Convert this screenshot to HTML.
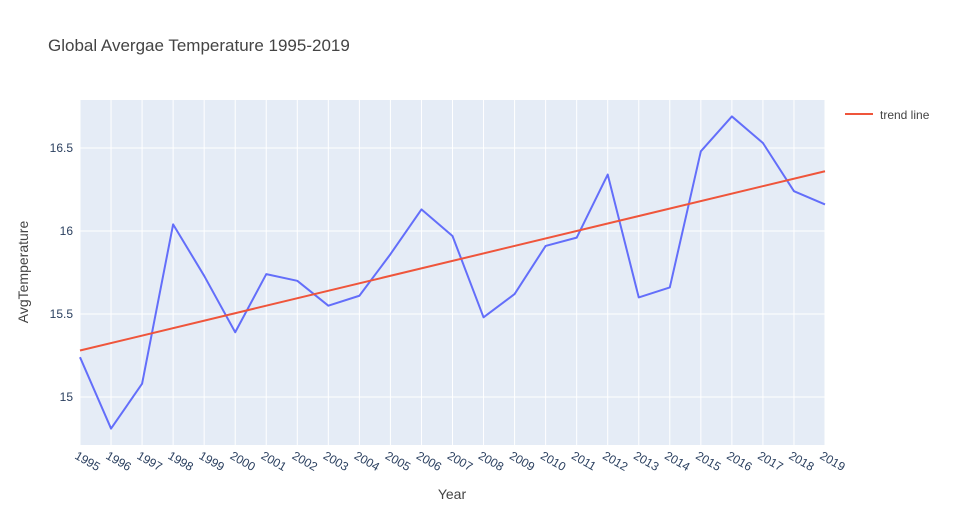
<!DOCTYPE html>
<html><head><meta charset="utf-8"><style>
body{margin:0;background:#fff;font-family:"Liberation Sans",Arial,sans-serif;}
svg text{font-family:"Liberation Sans",Arial,sans-serif;}
</style></head><body>
<svg id="chart" width="955" height="525">
<rect x="80" y="100" width="745" height="345" fill="#e5ecf6"/>
<g id="grid"></g>
<g id="xticks"></g>
<g id="yticks"></g>
<g id="series"></g>
<text x="48" y="51" font-size="17" fill="#444">Global Avergae Temperature 1995-2019</text>
<text x="452" y="499" font-size="14" fill="#444" text-anchor="middle">Year</text>
<text x="28" y="272" font-size="14" fill="#444" text-anchor="middle" transform="rotate(-90 28 272)">AvgTemperature</text>
<g>
<line x1="845" y1="114" x2="873" y2="114" stroke="#EF553B" stroke-width="2"/>
<text x="880" y="119" font-size="12" fill="#444">trend line</text>
</g>
</svg>
<script>
const years=[1995,1996,1997,1998,1999,2000,2001,2002,2003,2004,2005,2006,2007,2008,2009,2010,2011,2012,2013,2014,2015,2016,2017,2018,2019];
const temps=[15.24,14.81,15.08,16.04,15.73,15.39,15.74,15.70,15.55,15.61,15.86,16.13,15.97,15.48,15.62,15.91,15.96,16.34,15.60,15.66,16.48,16.69,16.53,16.24,16.16];
const trendStart=15.28;
const trendEnd=16.36;
const yTicks=[15,15.5,16,16.5];
const yTickLabels=["15","15.5","16","16.5"];
const NS="http://www.w3.org/2000/svg";
const X0=80,X1=825,Y0=445,Y1=100,YMIN=14.711,YMAX=16.789;
function xs(v){return X0+(v-years[0])/(years[years.length-1]-years[0])*(X1-X0);}
function ys(v){return Y0-(v-YMIN)/(YMAX-YMIN)*(Y0-Y1);}
function mk(t,a,p){const e=document.createElementNS(NS,t);for(const k in a)e.setAttribute(k,a[k]);p.appendChild(e);return e;}
const grid=document.getElementById('grid'),xt=document.getElementById('xticks'),yt=document.getElementById('yticks'),se=document.getElementById('series');
years.forEach(y=>{
 const l=mk('line',{x1:xs(y),x2:xs(y),y1:Y1,y2:Y0,stroke:'#fff','stroke-width':1},grid);
 
 
 const x=xs(y);
 const t=mk('text',{x:x-6,y:458,'font-size':12,fill:'#2a3f5f',transform:`rotate(30 ${x-6} 458)`},xt);
 t.textContent=y;
 
 
});
yTicks.forEach((v,i)=>{
 const l=mk('line',{x1:X0,x2:X1,y1:ys(v),y2:ys(v),stroke:'#fff','stroke-width':1},grid);
 
 
 const t=mk('text',{x:73,y:ys(v)+4,'font-size':12,fill:'#2a3f5f','text-anchor':'end'},yt);
 t.textContent=yTickLabels[i];
 
 
});
const pts=years.map((y,i)=>xs(y)+','+ys(temps[i])).join(' ');
const line=mk('polyline',{points:pts,fill:'none',stroke:'#636efa','stroke-width':2,'stroke-linejoin':'round'},se);


const tr=mk('line',{x1:xs(years[0]),y1:ys(trendStart),x2:xs(years[years.length-1]),y2:ys(trendEnd),stroke:'#EF553B','stroke-width':2},se);


</script>
</body></html>
